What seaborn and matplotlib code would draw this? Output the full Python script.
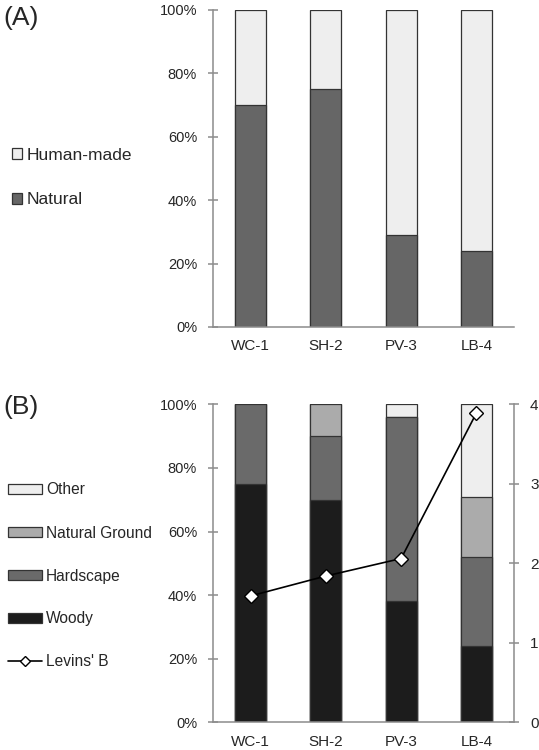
import numpy as np
import pandas as pd
import matplotlib
matplotlib.use("Agg")
import matplotlib.pyplot as plt
import seaborn as sns
from matplotlib.patches import Patch
from matplotlib.lines import Line2D

sites = ["WC-1", "SH-2", "PV-3", "LB-4"]
# Panel A (fractions)
natural = [0.70, 0.75, 0.29, 0.24]
human_made = [0.30, 0.25, 0.71, 0.76]
# Panel B (fractions)
woody = [0.75, 0.70, 0.38, 0.24]
hardscape = [0.25, 0.20, 0.58, 0.28]
natural_ground = [0.00, 0.10, 0.00, 0.19]
other = [0.00, 0.00, 0.04, 0.29]
levins_b = [1.59, 1.84, 2.06, 3.89]
pct_ticks = [0, 0.2, 0.4, 0.6, 0.8, 1.0]
pct_labels = ["0%", "20%", "40%", "60%", "80%", "100%"]
b_ticks = [0, 1, 2, 3, 4]

sns.set_style("white")
plt.rcParams["font.family"] = ["Liberation Sans", "DejaVu Sans"]

W, H = 539, 750
fig = plt.figure(figsize=(W / 100, H / 100), dpi=100)

axA = fig.add_axes([213 / W, 1 - 327 / H, 301 / W, 317 / H])
axB = fig.add_axes([213 / W, 1 - 722.3 / H, 301 / W, 318 / H])

edge = "#333333"
spine_col = "#8c8c8c"
bw = 0.41

def stacked(ax, layers, colors):
    cum = np.cumsum(np.array(layers), axis=0)
    # draw tallest cumulative first so lower segments sit on top
    for i in range(len(layers) - 1, -1, -1):
        df = pd.DataFrame({"site": sites, "val": cum[i]})
        sns.barplot(data=df, x="site", y="val", ax=ax, color=colors[i],
                    width=bw, edgecolor=edge, linewidth=0.9, saturation=1,
                    order=sites)

stacked(axA, [natural, human_made], ["#666666", "#eeeeee"])
stacked(axB, [woody, hardscape, natural_ground, other],
        ["#1c1c1c", "#6a6a6a", "#ababab", "#eeeeee"])

for ax in (axA, axB):
    ax.set_ylim(0, 1)
    ax.set_xlim(-0.5, 3.5)
    ax.set_yticks(pct_ticks)
    ax.set_yticklabels(pct_labels)
    ax.set_xlabel("")
    ax.set_ylabel("")
    for s in ("top", "right"):
        ax.spines[s].set_visible(False)
    for s in ("left", "bottom"):
        ax.spines[s].set_color(spine_col)
        ax.spines[s].set_linewidth(1.1)
    ax.tick_params(axis="y", direction="inout", length=7, width=1.1,
                   color=spine_col, labelsize=10.5, pad=8, left=True)
    ax.tick_params(axis="x", length=0, labelsize=11, pad=9)

axR = axB.twinx()
sns.lineplot(x=np.arange(len(sites)), y=levins_b, ax=axR, color="black",
             marker="D", markersize=7, markerfacecolor="white",
             markeredgecolor="black", markeredgewidth=1.0, linewidth=1.2)
axR.set_ylim(0, 4)
axR.set_yticks(b_ticks)
axR.set_xlim(-0.5, 3.5)
axR.set_ylabel("")
for s in ("top", "left", "bottom"):
    axR.spines[s].set_visible(False)
axR.spines["right"].set_color(spine_col)
axR.spines["right"].set_linewidth(1.1)
axR.tick_params(axis="y", direction="inout", length=7, width=1.1,
                color=spine_col, labelsize=11, pad=8, right=True)

# Legends
hA = [Patch(facecolor="#eeeeee", edgecolor=edge, linewidth=0.9),
      Patch(facecolor="#666666", edgecolor=edge, linewidth=0.9)]
fig.legend(hA, ["Human-made", "Natural"], loc="center left",
           bbox_to_anchor=(12 / W, 1 - 177.5 / H), frameon=False,
           fontsize=12.5, handlelength=0.6, handleheight=0.6,
           handletextpad=0.25, labelspacing=1.7, borderpad=0,
           borderaxespad=0)

hB = [Patch(facecolor="#eeeeee", edgecolor=edge, linewidth=0.9),
      Patch(facecolor="#ababab", edgecolor=edge, linewidth=0.9),
      Patch(facecolor="#6a6a6a", edgecolor=edge, linewidth=0.9),
      Patch(facecolor="#1c1c1c", edgecolor=edge, linewidth=0.9),
      Line2D([], [], color="black", marker="D", markersize=5,
             markerfacecolor="white", markeredgecolor="black", linewidth=1.2)]
fig.legend(hB, ["Other", "Natural Ground", "Hardscape", "Woody", "Levins' B"],
           loc="center left", bbox_to_anchor=(8 / W, 1 - 576 / H),
           frameon=False, fontsize=11.2, handlelength=2.2, handleheight=0.55,
           handletextpad=0.25, labelspacing=1.8, borderpad=0,
           borderaxespad=0)

fig.text(3 / W, 1 - 18 / H, "(A)", fontsize=19, va="center", ha="left")
fig.text(3 / W, 1 - 407 / H, "(B)", fontsize=19, va="center", ha="left")

fig.savefig("out.png", dpi=100)
